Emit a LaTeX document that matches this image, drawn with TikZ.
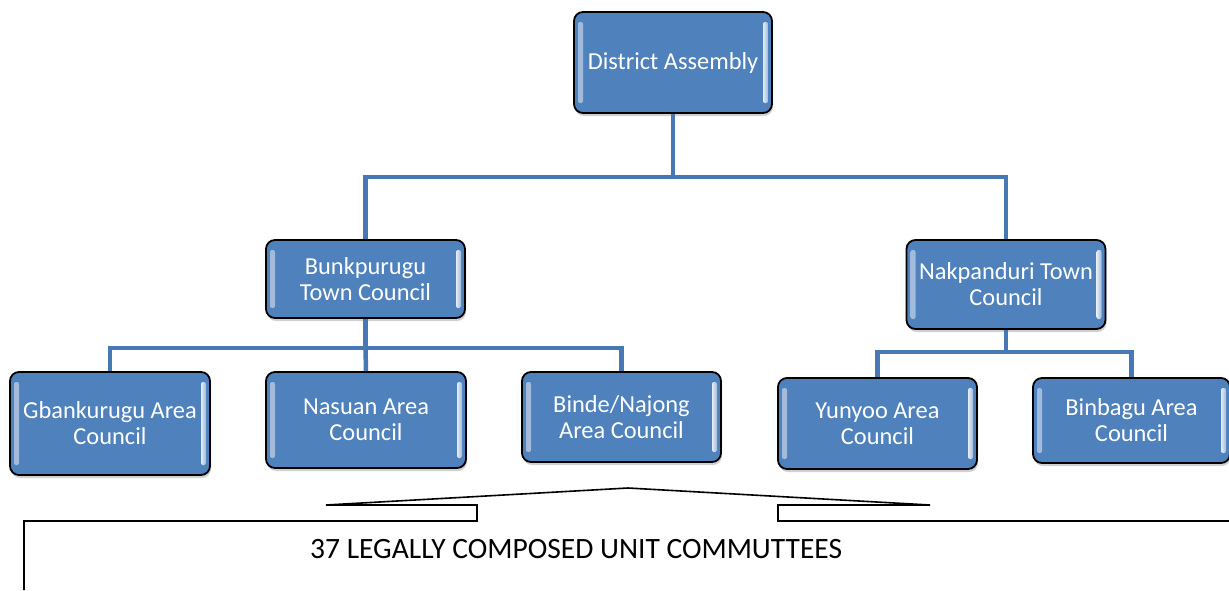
\documentclass[tikz,border=0pt]{standalone}
\usepackage{fontspec}
\setmainfont{Carlito}
\usetikzlibrary{shadows}
\definecolor{boxblue}{RGB}{79,129,189}
\definecolor{connblue}{RGB}{70,120,180}
\tikzset{
  orgbox/.style={draw=black, line width=1.8pt, rounded corners=9pt, fill=boxblue,
    text=white, align=center, inner sep=0pt,
    font=\fontsize{24.4}{26}\selectfont,
    drop shadow={shadow xshift=1pt, shadow yshift=-3pt, opacity=0.3, fill=black!60},
    path picture={
      \fill[left color=boxblue!55!white, right color=boxblue!15!white, rounded corners=2pt]
        ([xshift=4pt,yshift=-10pt]path picture bounding box.north west) rectangle
        ([xshift=9pt,yshift=10pt]path picture bounding box.south west);
      \fill[left color=boxblue!15!white, right color=boxblue!55!white, rounded corners=2pt]
        ([xshift=-9pt,yshift=-10pt]path picture bounding box.north east) rectangle
        ([xshift=-4pt,yshift=10pt]path picture bounding box.south east);
    }},
  conn/.style={draw=connblue, line width=4.5pt},
  bracket/.style={draw=black, line width=1.6pt},
}
\begin{document}
\begin{tikzpicture}[x=1pt,y=-1pt]
\useasboundingbox (0,0) rectangle (1229,590);

\coordinate (j1) at (673,177);
\coordinate (j2) at (365.5,348);
\coordinate (j3) at (1006,352);

\node[orgbox, minimum width=198pt, minimum height=101pt] (da) at (673,62.5) {District Assembly};
\node[orgbox, minimum width=199pt, minimum height=78pt] (btc) at (365.5,279) {Bunkpurugu\\Town Council};
\node[orgbox, minimum width=199pt, minimum height=89pt] (ntc) at (1006,284.5) {Nakpanduri Town\\Council};
\node[orgbox, minimum width=200pt, minimum height=103pt] (gac) at (110,423.5) {Gbankurugu Area\\Council};
\node[orgbox, minimum width=200pt, minimum height=96pt] (nac) at (366,420) {Nasuan Area\\Council};
\node[orgbox, minimum width=199pt, minimum height=90pt] (bnac) at (621.5,417) {Binde/Najong\\Area Council};
\node[orgbox, minimum width=199pt, minimum height=91pt] (yac) at (877.5,423.5) {Yunyoo Area\\Council};
\node[orgbox, minimum width=197pt, minimum height=85pt] (bbac) at (1131.5,420.5) {Binbagu Area\\Council};

\draw[conn] (da.south) -- (j1);
\draw[conn] (btc.north) |- (j1) -| (ntc.north);
\draw[conn] (btc.south) -- (j2);
\draw[conn] (gac.north) |- (j2) -| (bnac.north);
\draw[conn] (j2) -- (nac.north);
\draw[conn] (ntc.south) -- (j3);
\draw[conn] (yac.north) |- (j3) -| (bbac.north);

\coordinate (apex) at (628,488);
\coordinate (bl1) at (326,505);
\coordinate (bl2) at (477,505);
\coordinate (bl3) at (477,521);
\coordinate (bl4) at (24,521);
\coordinate (bl5) at (24,590);
\coordinate (br1) at (930,505);
\coordinate (br2) at (778,505);
\coordinate (br3) at (778,521);
\coordinate (br4) at (1229,521);
\draw[bracket, line join=miter] (bl5) -- (bl4) -- (bl3) -- (bl2) -- (bl1) -- (apex) -- (br1) -- (br2) -- (br3) -- (br4);

\node[font=\fontsize{29.5}{32}\selectfont, text=black, anchor=west, inner sep=2pt] (txt) at (308,549) {37 LEGALLY COMPOSED UNIT COMMUTTEES};
\end{tikzpicture}
\end{document}
